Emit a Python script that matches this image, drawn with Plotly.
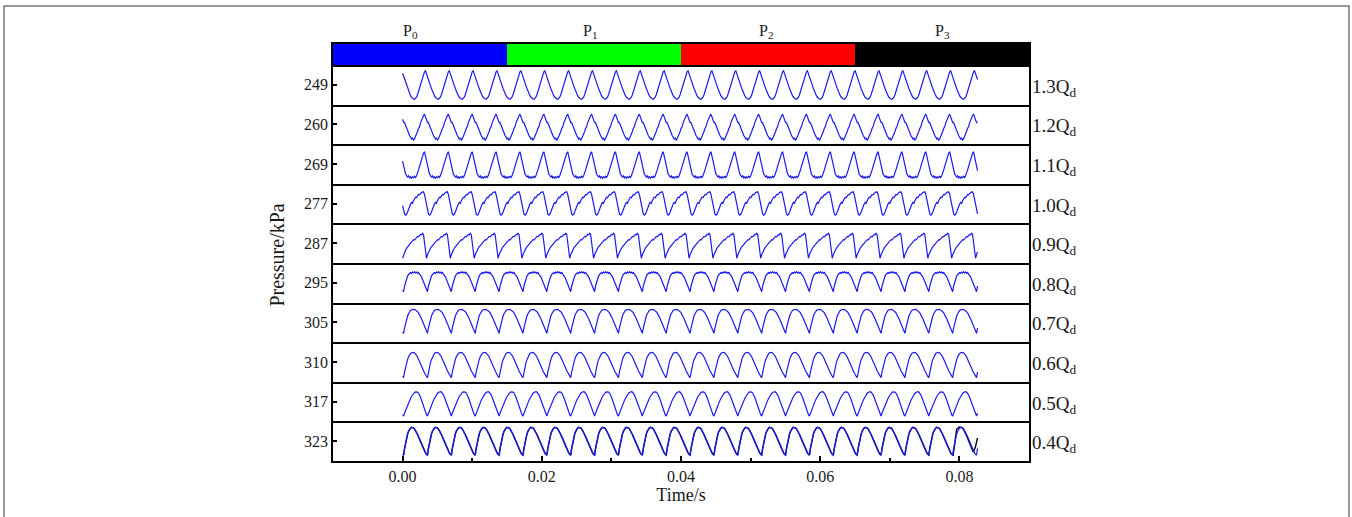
import numpy as np
import plotly.graph_objects as go
from plotly.subplots import make_subplots

# ---------------- data ----------------
flow_labels = ["1.3", "1.2", "1.1", "1.0", "0.9", "0.8", "0.7", "0.6", "0.5", "0.4"]
mean_pressure = [249, 260, 269, 277, 287, 295, 305, 310, 317, 323]

period = 0.00343          # s, blade-passing period (read from peak spacing)
samples_per_cycle = 24
t_end = 0.0826            # s, last recorded time

# one cycle of each pressure trace (kPa deviation from mean), 24 samples per cycle
cycle_13 = [7.1, 5.8, 4.3, 2.7, 1.1, -0.4, -1.9, -3.3, -4.5, -5.5, -6.3, -6.9,
            -7.2, -7.3, -7.0, -6.3, -5.0, -3.4, -1.6, 0.3, 2.2, 4.0, 5.5, 6.6]
cycle_12 = [5.2, 3.6, 2.6, 1.0, 0.8, -0.6, -1.6, -3.0, -4.2, -5.6, -6.4, -7.4,
            -7.0, -7.9, -7.2, -6.2, -4.4, -3.6, -2.0, -1.2, 0.8, 2.0, 3.8, 4.4]
cycle_11 = [6.2, 4.0, 1.5, -1.2, -3.5, -5.0, -5.8, -6.6, -6.0, -7.0, -6.4, -7.2,
            -6.5, -6.9, -6.2, -6.8, -5.9, -4.8, -3.0, -1.2, 0.8, 2.6, 4.2, 5.4]
cycle_10 = [6.0, 4.6, 2.0, -1.0, -3.6, -5.2, -5.8, -5.4, -4.2, -2.6, -1.4, -0.2,
            0.6, 0.2, 1.4, 2.6, 3.2, 3.0, 4.0, 4.6, 4.4, 5.2, 5.6, 5.8]
cycle_09 = [-7.6, -5.8, -4.4, -3.4, -2.6, -1.8, -1.2, -0.4, 0.2, 0.6, 1.2, 1.8,
            1.6, 2.4, 2.8, 3.4, 3.2, 3.8, 4.4, 4.2, 5.0, 4.4, -0.8, -5.4]
cycle_08 = [-4.5, -1.6, 0.6, 2.2, 3.4, 4.2, 4.8, 5.2, 4.8, 5.4, 5.0, 5.6,
            5.0, 5.4, 4.8, 5.2, 4.4, 3.8, 3.0, 1.8, 0.4, -1.0, -2.4, -3.8]
cycle_07 = [-5.5, -2.8, -0.4, 1.6, 3.2, 4.4, 5.4, 6.0, 6.4, 6.6, 6.4, 6.6,
            6.2, 6.0, 5.4, 4.8, 4.0, 3.0, 1.8, 0.6, -0.8, -2.2, -3.6, -4.8]
cycle_06 = [-7.9, -5.0, -2.4, -0.4, 1.2, 2.6, 3.6, 4.3, 4.7, 4.9, 4.9, 4.6,
            4.1, 3.4, 2.5, 1.5, 0.4, -0.8, -2.0, -3.2, -4.4, -5.5, -6.5, -7.3]
cycle_05 = [-7.3, -5.8, -4.4, -3.0, -1.8, -0.6, 0.6, 1.6, 2.6, 3.4, 4.1, 4.6,
            4.9, 5.0, 4.8, 4.3, 3.4, 2.2, 0.8, -0.8, -2.4, -4.0, -5.4, -6.6]
cycle_04 = [-7.0, -3.6, -0.6, 1.8, 3.6, 5.0, 6.0, 6.6, 7.0, 7.0, 6.7, 6.2,
            5.4, 4.5, 3.4, 2.2, 1.0, -0.3, -1.6, -2.9, -4.0, -5.0, -5.9, -6.6]
cycles = [cycle_13, cycle_12, cycle_11, cycle_10, cycle_09,
          cycle_08, cycle_07, cycle_06, cycle_05, cycle_04]
# which sample of the cycle is recorded at t = 0
start_sample = [1, 2, 2, 3, 0, 23, 23, 23, 23, 23]

# second (black) record at 0.4Qd that departs from the blue one in the last cycle
black_tail_t = [0.0791, 0.0793, 0.0796, 0.0800, 0.0805, 0.0810, 0.0815, 0.0820, 0.0823, 0.0826]
black_tail_v = [-7.0, -2.0, 6.0, 7.2, 6.6, 3.0, -1.5, -5.5, -3.0, 1.6]

# top bar: operating stages
stage_names = ["P<sub>0</sub>", "P<sub>1</sub>", "P<sub>2</sub>", "P<sub>3</sub>"]
stage_start = [-0.01, 0.015, 0.04, 0.065]
stage_end = [0.015, 0.04, 0.065, 0.09]
stage_label_x = [0.0012, 0.0270, 0.0523, 0.0776]
stage_colors = ["#0000ff", "#00ff00", "#ff0000", "#000000"]

x_range = [-0.01, 0.09]
x_ticks = [0.00, 0.02, 0.04, 0.06, 0.08]

# ---------------- figure ----------------
n = len(flow_labels)
fig = make_subplots(rows=n + 1, cols=1, shared_xaxes=True, vertical_spacing=0,
                    row_heights=[21] + [39.6] * n)

FONT = "Liberation Serif"
TXT = "#1a1a1a"
BLUE = "#1a1aee"

for s, e, c in zip(stage_start, stage_end, stage_colors):
    fig.add_trace(go.Bar(y=[0], x=[e - s], base=[s], orientation="h",
                         marker=dict(color=c, line=dict(width=0)), width=1,
                         showlegend=False, hoverinfo="skip"), row=1, col=1)

dt = period / samples_per_cycle
n_samples = int(round(t_end / dt)) + 1
t = np.arange(n_samples) * dt

for k in range(n):
    cyc = np.array(cycles[k])
    idx = (np.arange(n_samples) + start_sample[k]) % samples_per_cycle
    y = mean_pressure[k] + cyc[idx]
    row = k + 2
    if k == n - 1:
        tb = np.concatenate([t[t < black_tail_t[0]], black_tail_t])
        yb = np.concatenate([y[t < black_tail_t[0]], mean_pressure[k] + np.array(black_tail_v)])
        fig.add_trace(go.Scatter(x=tb, y=yb, mode="lines",
                                 line=dict(color="#101030", width=1.5),
                                 showlegend=False), row=row, col=1)
    fig.add_trace(go.Scatter(x=t, y=y, mode="lines",
                             line=dict(color=BLUE, width=1.2),
                             showlegend=False), row=row, col=1)
    m = mean_pressure[k]
    fig.update_yaxes(range=[m - 10, m + 10], tickvals=[m], ticktext=[str(m)],
                     ticks="inside", ticklen=4, tickwidth=1.5, tickcolor="black",
                     showgrid=False, zeroline=False, showline=True, mirror=True,
                     linecolor="black", linewidth=1.8,
                     tickfont=dict(family=FONT, size=16, color=TXT),
                     row=row, col=1)

fig.update_yaxes(range=[-0.5, 0.5], showticklabels=False, ticks="", showgrid=False,
                 zeroline=False, showline=True, mirror=True, linecolor="black",
                 linewidth=1.8, row=1, col=1)

for r in range(1, n + 2):
    fig.update_xaxes(range=x_range, showgrid=False, zeroline=False, showline=True,
                     mirror=(r == 1), linecolor="black", linewidth=1.8,
                     showticklabels=False, ticks="", row=r, col=1)

fig.update_xaxes(showticklabels=True, tickvals=x_ticks, tickformat=".2f",
                 ticks="inside", ticklen=5, tickwidth=1.5, tickcolor="black",
                 minor=dict(dtick=0.01, tick0=0, ticks="inside", ticklen=3,
                            tickwidth=1.5, tickcolor="black"),
                 tickfont=dict(family=FONT, size=16, color=TXT),
                 title=dict(text="Time/s", font=dict(family=FONT, size=18, color=TXT),
                            standoff=0),
                 row=n + 1, col=1)

annotations = []
for name, lx in zip(stage_names, stage_label_x):
    annotations.append(dict(x=lx, y=1, xref="x", yref="paper",
                            text=name, showarrow=False, xanchor="center",
                            yanchor="bottom", yshift=1,
                            font=dict(family=FONT, size=16, color=TXT)))

plot_h = 21 + 39.6 * n
for k in range(n):
    yc = (39.6 * (n - k - 0.5)) / plot_h
    annotations.append(dict(x=1.0, y=yc, xref="paper", yref="paper",
                            text=flow_labels[k] + "Q<sub>d</sub>", showarrow=False,
                            xanchor="left", yanchor="middle", xshift=1, yshift=-3,
                            font=dict(family=FONT, size=19, color=TXT)))

annotations.append(dict(x=-0.081, y=(461 - 255) / plot_h, xref="paper", yref="paper",
                        text="Pressure/kPa", showarrow=False, textangle=-90,
                        xanchor="center", yanchor="middle",
                        font=dict(family=FONT, size=20, color=TXT)))

W, H = 1352, 517
ml, mr, mt, mb = 333, 323, 44, 56
pw, ph = W - ml - mr, H - mt - mb
frame_left = (4 - ml) / pw
frame_right = (1349 - ml) / pw
frame_top = 1 + (mt - 6) / ph
frame_bottom = -(H + 20 - (H - mb)) / ph

fig.update_layout(
    width=W, height=H,
    margin=dict(l=ml, r=mr, t=mt, b=mb, pad=0),
    plot_bgcolor="white", paper_bgcolor="white",
    barmode="overlay", bargap=0,
    annotations=annotations,
    shapes=[dict(type="path", xref="paper", yref="paper",
                 path=f"M {frame_left} {frame_bottom} L {frame_left} {frame_top} "
                      f"L {frame_right} {frame_top} L {frame_right} {frame_bottom}",
                 line=dict(color="#777777", width=1.5))],
    showlegend=False,
)

fig.write_html("out.html", config={"displayModeBar": False},
               post_script="document.body.style.margin='0px';document.body.style.overflow='hidden';")
